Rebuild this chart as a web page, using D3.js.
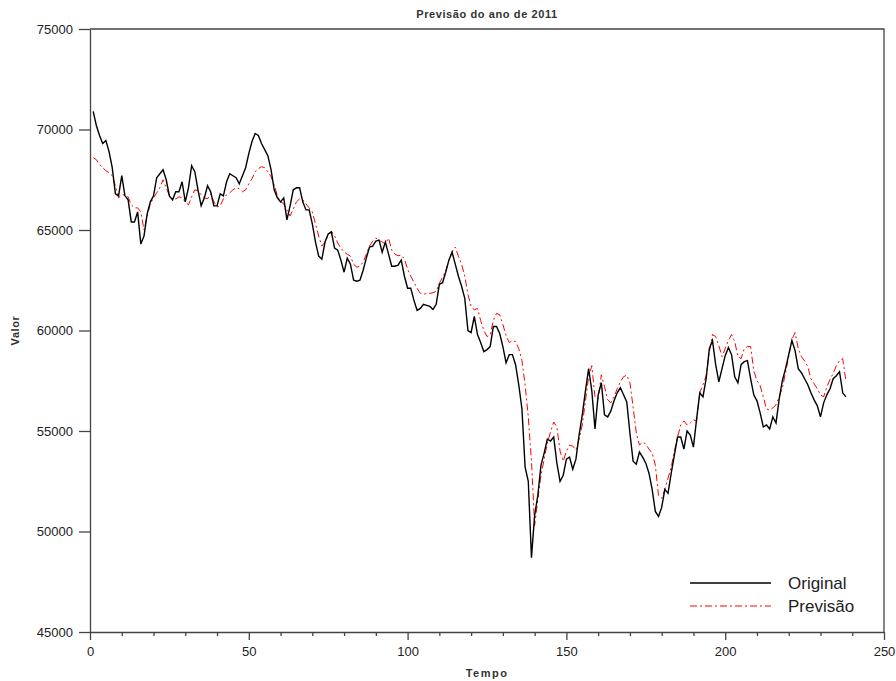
<!DOCTYPE html>
<html>
<head>
<meta charset="utf-8">
<script src="https://cdn.jsdelivr.net/npm/d3@7"></script>
<style>
  body { margin: 0; background: #fff; }
  svg { display: block; font-family: "Liberation Sans", Arial, sans-serif; }
</style>
</head>
<body>
<div id="chart"></div>
<script>
// valores (t = 1..238)
const original = [
  70900,70200,69700,69300,69450,68900,68100,66800,66700,67700,
  66700,66500,65400,65400,65900,64300,64700,65800,66400,66700,
  67600,67800,68000,67500,66700,66500,66900,66900,67400,66400,
  67100,68200,67900,67000,66200,66600,67200,66900,66200,66200,
  66800,66700,67400,67800,67700,67600,67300,67700,68100,68800,
  69400,69800,69700,69300,69000,68700,68000,67000,66600,66400,
  66600,65500,66200,67000,67100,67100,66400,66000,66000,65300,
  64400,63700,63550,64400,64800,64900,64100,64000,63500,62900,
  63600,63300,62500,62450,62500,63000,63600,64150,64200,64450,
  64500,63900,64400,63800,63200,63200,63250,63500,62700,62100,
  62100,61500,61000,61100,61300,61250,61200,61050,61300,62300,
  62380,62900,63500,63900,63300,62700,62200,61600,60000,59900,
  60700,59800,59400,58950,59050,59200,60200,60200,59850,59200,
  58400,58800,58800,58300,57300,56100,53200,52500,48700,50800,
  51800,53300,53900,54600,54500,54700,53400,52500,52800,53600,
  53700,53100,53600,54800,55800,57000,58100,57000,55100,56800,
  57400,55800,55700,56000,56500,56900,57150,56800,56450,54900,
  53500,53350,53950,53700,53400,52900,52100,51000,50750,51200,
  52100,51900,52900,53800,54700,54700,54100,55000,54800,54200,
  55600,56900,56700,57600,59100,59500,58300,57450,58100,58750,
  59150,58800,57700,57400,58300,58450,58500,57600,56800,56500,
  55900,55200,55300,55100,55700,55400,56600,57500,58100,58800,
  59500,59000,58100,57900,57600,57300,56900,56550,56250,55700,
  56400,56800,57100,57600,57750,57950,56900,56700
];

const previsao = [
  68600,68500,68250,68100,67950,67850,67700,67200,66600,66750,
  66750,66650,66250,66100,66100,65900,65000,65700,66300,66600,
  66850,67100,67500,67100,66700,66500,66550,66650,66600,66400,
  66250,66650,67000,66950,66750,66600,66550,66800,66400,66150,
  66200,66550,66750,66850,67000,67100,67050,66900,67000,67300,
  67550,67900,68050,68150,68100,67900,67650,67250,66700,66400,
  66300,66000,65700,66050,66400,66550,66500,66300,66100,65900,
  65300,64700,64200,64400,64750,64950,64700,64350,64100,63900,
  63800,63700,63300,63150,63200,63400,63800,64200,64450,64600,
  64480,64400,64300,64600,64000,63800,63720,63750,63550,63050,
  62700,62400,62100,61850,61800,61850,61850,61880,61950,62350,
  62650,62950,63500,63900,64150,63700,63300,62700,61800,61200,
  61020,61100,60500,60000,59700,59770,60500,60850,60780,60300,
  59750,59400,59500,59450,59100,58500,57300,55700,53500,50300,
  51600,52800,53600,54400,54950,55450,55200,54000,53500,54000,
  54300,54250,54050,54600,55300,56500,57700,58250,56700,56600,
  57800,57200,56550,56400,56700,57100,57450,57700,57780,57400,
  56200,54900,54300,54450,54350,54100,53900,53300,51800,51650,
  52100,52650,53200,54000,54700,55300,55500,55300,55400,55550,
  55500,56900,57300,57750,58900,59800,59700,59250,58700,59100,
  59500,59800,59450,58700,58600,59100,59200,59200,58000,57500,
  57250,56700,56100,56050,56150,56300,56700,57150,57900,58700,
  59550,59900,59100,58700,58480,58200,57600,57350,57100,56800,
  56700,57200,57550,57870,58250,58500,58600,57500
];

const xTicks = [0, 50, 100, 150, 200, 250];
const yTicks = [45000, 50000, 55000, 60000, 65000, 70000, 75000];
const legendLabels = ["Original", "Previsão"];

const w = 896, h = 681;
const pLeft = 90, pRight = 884, pTop = 29, pBottom = 632;
const axisColor = "#444";

const svg = d3.select("#chart").append("svg")
  .attr("width", w).attr("height", h);

const xScale = d3.scaleLinear().domain([0, 250]).range([pLeft, pRight]);
const yScale = d3.scaleLinear().domain([45000, 75000]).range([pBottom, pTop]);

// frame (top + right)
svg.append("path")
  .attr("d", `M${pLeft},${pTop}H${pRight}V${pBottom}`)
  .attr("fill", "none").attr("stroke", axisColor).attr("stroke-width", 1.3);

// x axis, minor ticks every 10
const xMinor = d3.range(0, 251, 10).filter(v => v % 50 !== 0);
svg.append("g")
  .attr("transform", `translate(0,${pBottom})`)
  .call(d3.axisBottom(xScale).tickValues(xMinor).tickSize(4).tickFormat(""))
  .call(g => g.select(".domain").remove())
  .call(g => g.selectAll("line").attr("stroke", axisColor).attr("stroke-width", 1.3));

const xAxis = svg.append("g")
  .attr("transform", `translate(0,${pBottom})`)
  .call(d3.axisBottom(xScale).tickValues(xTicks).tickSize(8).tickSizeOuter(0).tickPadding(7))
xAxis.select(".domain").attr("stroke", axisColor).attr("stroke-width", 1.3);
xAxis.selectAll("line").attr("stroke", axisColor).attr("stroke-width", 1.3);
xAxis.selectAll("text").attr("font-size", 13).attr("fill", "#222")
  .attr("font-family", "Liberation Sans, Arial, sans-serif");

const yAxis = svg.append("g")
  .attr("transform", `translate(${pLeft},0)`)
  .call(d3.axisLeft(yScale).tickValues(yTicks).tickSize(11).tickSizeOuter(0).tickPadding(6).tickFormat(d3.format("d")))
yAxis.select(".domain").attr("stroke", axisColor).attr("stroke-width", 1.3);
yAxis.selectAll("line").attr("stroke", axisColor).attr("stroke-width", 1.3);
yAxis.selectAll("text").attr("font-size", 13).attr("fill", "#222")
  .attr("font-family", "Liberation Sans, Arial, sans-serif");

// series
const line = d3.line()
  .x((d, i) => xScale(i + 1))
  .y(d => yScale(d));

svg.append("path")
  .datum(previsao)
  .attr("d", line)
  .attr("fill", "none")
  .attr("stroke", "#ff0000")
  .attr("stroke-width", 1)
  .attr("stroke-dasharray", "7,3,2,3");

svg.append("path")
  .datum(original)
  .attr("d", line)
  .attr("fill", "none")
  .attr("stroke", "#000")
  .attr("stroke-width", 1.4);

// titles
svg.append("text")
  .attr("x", (pLeft + pRight) / 2).attr("y", 18)
  .attr("text-anchor", "middle")
  .attr("font-size", 11).attr("font-weight", "bold")
  .attr("letter-spacing", 0.6).attr("fill", "#333")
  .text("Previsão do ano de 2011");

svg.append("text")
  .attr("x", (pLeft + pRight) / 2).attr("y", 677)
  .attr("text-anchor", "middle")
  .attr("font-size", 11).attr("font-weight", "bold")
  .attr("letter-spacing", 1.5).attr("fill", "#333")
  .text("Tempo");

svg.append("text")
  .attr("transform", `translate(19,${(pTop + pBottom) / 2}) rotate(-90)`)
  .attr("text-anchor", "middle")
  .attr("font-size", 11).attr("font-weight", "bold")
  .attr("letter-spacing", 0.6).attr("fill", "#333")
  .text("Valor");

// legend
const legend = svg.append("g");
const legendStyles = [
  { stroke: "#000", dash: null, width: 1.4 },
  { stroke: "#ff0000", dash: "7,3,2,3", width: 1 }
];
legendLabels.forEach((lab, i) => {
  const y = 583 + i * 23;
  legend.append("line")
    .attr("x1", 690).attr("x2", 771).attr("y1", y).attr("y2", y)
    .attr("stroke", legendStyles[i].stroke)
    .attr("stroke-width", legendStyles[i].width)
    .attr("stroke-dasharray", legendStyles[i].dash);
  legend.append("text")
    .attr("x", 788).attr("y", y + 6)
    .attr("font-size", 17).attr("fill", "#222")
    .text(lab);
});
</script>
</body>
</html>
